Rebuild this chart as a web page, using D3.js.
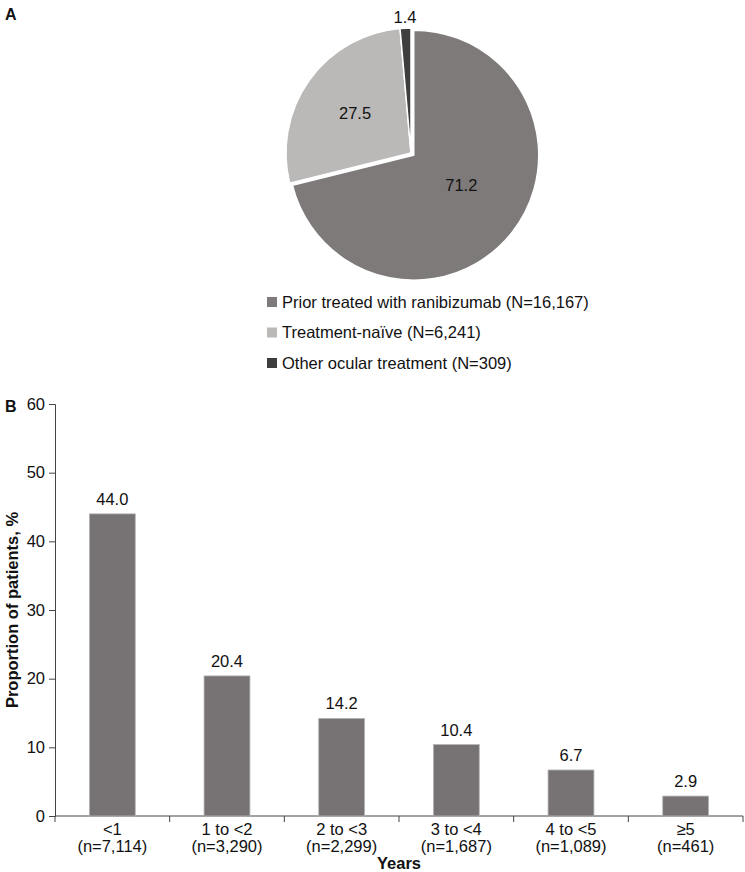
<!DOCTYPE html>
<html>
<head>
<meta charset="utf-8">
<script src="https://cdn.jsdelivr.net/npm/d3@7"></script>
<style>
  body { margin: 0; background: #fff; }
  text { font-family: "Liberation Sans", Arial, sans-serif; fill: #111; }
</style>
</head>
<body>
<svg id="chart" width="745" height="872"></svg>
<script>
// Panel A - pie
var pieLabels = ["Prior treated with ranibizumab (N=16,167)", "Treatment-na\u00efve (N=6,241)", "Other ocular treatment (N=309)"];
var pieValues = [71.2, 27.5, 1.4];
var pieColors = ["#7e7a7a", "#bbb8b8", "#3f3e3e"];

// Panel B - bars
var years = ["<1", "1 to <2", "2 to <3", "3 to <4", "4 to <5", "\u22655"];
var counts = ["(n=7,114)", "(n=3,290)", "(n=2,299)", "(n=1,687)", "(n=1,089)", "(n=461)"];
var proportions = [44.0, 20.4, 14.2, 10.4, 6.7, 2.9];
var yTicks = [0, 10, 20, 30, 40, 50, 60];

var svg = d3.select("#chart");
var f = d3.format(".1f");
var fs = 16.5;

// panel letters
svg.append("text").attr("x", 5).attr("y", 20).text("A")
    .attr("font-weight", "bold").attr("font-size", 16);
svg.append("text").attr("x", 5).attr("y", 412).text("B")
    .attr("font-weight", "bold").attr("font-size", 16);

//Pie
var cx = 411, cy = 153, r = 125;
var pie = d3.pie().sort(null).value(function(d) { return d; });
var arc = d3.arc().innerRadius(0).outerRadius(r);
var arcs = pie(pieValues);

var pg = svg.append("g").attr("transform", "translate(" + cx + "," + cy + ")");

pg.selectAll("path")
    .data(arcs)
    .enter()
    .append("path")
    .attr("d", arc)
    .attr("fill", function(d, i) { return pieColors[i]; })
    .attr("stroke", "#fff")
    .attr("stroke-width", 1.5)
    .attr("transform", function(d, i) {
        if (i != 0) return null;
        var a = (d.startAngle + d.endAngle) / 2;
        return "translate(" + (Math.sin(a) * 3.5) + "," + (-Math.cos(a) * 3.5) + ")";
    });

// slice values
var labelPos = [
    d3.arc().innerRadius(r * 0.47).outerRadius(r * 0.47),
    d3.arc().innerRadius(r * 0.55).outerRadius(r * 0.55),
    d3.arc().innerRadius(r * 1.09).outerRadius(r * 1.09)
];
pg.selectAll("text.val")
    .data(arcs)
    .enter()
    .append("text")
    .attr("class", "val")
    .attr("x", function(d, i) { return labelPos[i].centroid(d)[0] + (i == 0 ? 4 : 0); })
    .attr("y", function(d, i) { return labelPos[i].centroid(d)[1] - (i == 0 ? 4 : 0); })
    .attr("dy", "0.35em")
    .attr("text-anchor", "middle")
    .attr("font-size", fs)
    .text(function(d) { return f(d.data); });

// legend
var leg = svg.append("g").attr("transform", "translate(267,302)");
var li = leg.selectAll("g")
    .data(pieLabels)
    .enter()
    .append("g")
    .attr("transform", function(d, i) { return "translate(0," + (i * 30.5) + ")"; });
li.append("rect")
    .attr("x", 0).attr("y", -5)
    .attr("width", 10).attr("height", 10)
    .attr("fill", function(d, i) { return pieColors[i]; });
li.append("text")
    .attr("x", 15).attr("y", 0).attr("dy", "0.35em")
    .attr("font-size", fs)
    .text(function(d) { return d; });

//Bars
var m = { left: 55, right: 743, top: 404, bottom: 816 };

var x = d3.scaleBand().domain(years).range([m.left, m.right]).paddingInner(0.6).paddingOuter(0.3);
var xEdge = d3.scaleLinear().domain([0, years.length]).range([m.left, m.right]);
var y = d3.scaleLinear().domain([0, 60]).range([m.bottom, m.top]);

var yAxis = svg.append("g")
    .attr("transform", "translate(" + m.left + ",0)")
    .call(d3.axisLeft(y).tickValues(yTicks).tickSize(6).tickPadding(4));
yAxis.selectAll("text").attr("font-size", fs).attr("fill", "#111")
    .attr("font-family", "Liberation Sans, Arial, sans-serif");
yAxis.select(".domain").attr("stroke", "#444");
yAxis.selectAll(".tick line").attr("stroke", "#444");

var xg = svg.append("g");
xg.append("line")
    .attr("x1", m.left).attr("x2", m.right)
    .attr("y1", m.bottom).attr("y2", m.bottom)
    .attr("stroke", "#444");
xg.selectAll("line.tk")
    .data(d3.range(years.length + 1))
    .enter()
    .append("line")
    .attr("class", "tk")
    .attr("x1", function(d) { return xEdge(d); })
    .attr("x2", function(d) { return xEdge(d); })
    .attr("y1", m.bottom).attr("y2", m.bottom + 6)
    .attr("stroke", "#444");

svg.selectAll("rect.bar")
    .data(proportions)
    .enter()
    .append("rect")
    .attr("class", "bar")
    .attr("x", function(d, i) { return x(years[i]); })
    .attr("width", x.bandwidth())
    .attr("y", function(d) { return y(d); })
    .attr("height", function(d) { return y(0) - y(d); })
    .attr("fill", "#777374")
    .attr("stroke", "#b5b3b3")
    .attr("stroke-width", 0.8);

svg.selectAll("text.bv")
    .data(proportions)
    .enter()
    .append("text")
    .attr("class", "bv")
    .attr("x", function(d, i) { return x(years[i]) + x.bandwidth() / 2; })
    .attr("y", function(d) { return y(d) - 9; })
    .attr("text-anchor", "middle")
    .attr("font-size", fs)
    .text(function(d) { return f(d); });

var cat = svg.selectAll("text.cat")
    .data(years)
    .enter()
    .append("text")
    .attr("class", "cat")
    .attr("text-anchor", "middle")
    .attr("font-size", fs)
    .attr("x", function(d) { return x(d) + x.bandwidth() / 2; })
    .attr("y", 835);
cat.append("tspan").text(function(d) { return d; });
cat.append("tspan")
    .attr("x", function(d) { return x(d) + x.bandwidth() / 2; })
    .attr("dy", 16.5)
    .text(function(d, i) { return counts[i]; });

svg.append("text")
    .attr("x", 399).attr("y", 869)
    .attr("text-anchor", "middle")
    .attr("font-weight", "bold")
    .attr("font-size", fs)
    .text("Years");

svg.append("text")
    .attr("transform", "translate(18,610) rotate(-90)")
    .attr("text-anchor", "middle")
    .attr("font-weight", "bold")
    .attr("font-size", fs)
    .text("Proportion of patients, %");
</script>
</body>
</html>
